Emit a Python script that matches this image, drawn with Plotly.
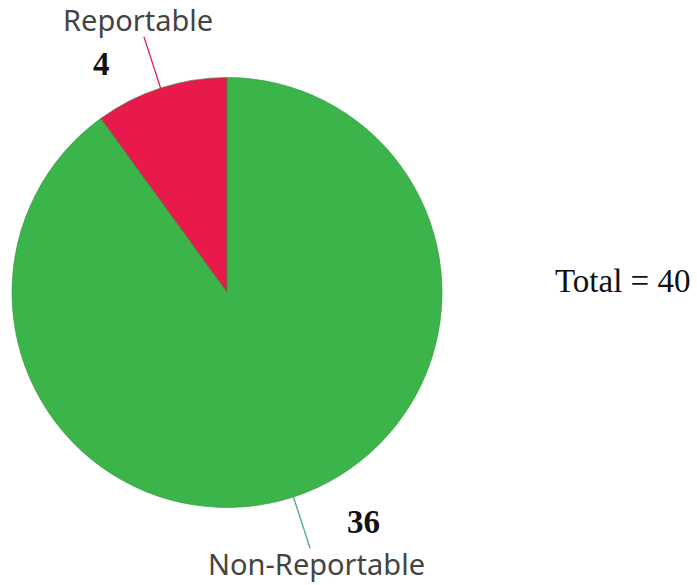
import math
import plotly.graph_objects as go

labels = ["Reportable", "Non-Reportable"]
values = [4, 36]
colors = ["#e8194b", "#3bb54a"]
line_colors = ["#e8194b", "#4aa88a"]
total_text = "Total = 40"

W, H = 697, 585
cx, cy, R = 227, 292.5, 215  # pixel geometry of the pie

total = sum(values)
fig = go.Figure(go.Pie(
    labels=labels, values=values, sort=False, direction="counterclockwise",
    rotation=-360 * values[0] / total,
    marker=dict(colors=colors, line=dict(color="#2f8f3a", width=0.6)),
    textinfo="none", hoverinfo="label+value", showlegend=False,
    domain=dict(x=[(cx - R) / W, (cx + R) / W], y=[(H - cy - R) / H, (H - cy + R) / H]),
))

def px(x, y):
    return x / W, 1 - y / H

cum = 0
label_pos = [(-6, -17), (6, 15)]
value_offsets = [(-42, 27), (53, -26)]
for i, (lab, v) in enumerate(zip(labels, values)):
    mid = (cum + v / 2) / total * 2 * math.pi  # counterclockwise from top
    cum += v
    sx, sy = -math.sin(mid), -math.cos(mid)
    x0, y0 = cx + sx * R, cy + sy * R
    x1, y1 = cx + sx * (R + 54), cy + sy * (R + 54)
    a0, b0 = px(x0, y0)
    a1, b1 = px(x1, y1)
    fig.add_shape(type="line", xref="paper", yref="paper", x0=a0, y0=b0, x1=a1, y1=b1,
                  line=dict(color=line_colors[i], width=1.3))
    lx, ly = px(x1 + label_pos[i][0], y1 + label_pos[i][1])
    fig.add_annotation(text=lab, x=lx, y=ly, xref="paper", yref="paper", showarrow=False,
                       xanchor="center", yanchor="middle",
                       font=dict(family="Noto Sans", size=29, color="#444444"))
    vx, vy = px(x1 + value_offsets[i][0], y1 + value_offsets[i][1])
    fig.add_annotation(text="<b>%d</b>" % v, x=vx, y=vy, xref="paper", yref="paper",
                       showarrow=False, xanchor="center", yanchor="middle",
                       font=dict(family="Liberation Serif", size=33, color="#111111"))

tx, ty = px(622, 281)
fig.add_annotation(text=total_text, x=tx, y=ty, xref="paper", yref="paper",
                   showarrow=False, xanchor="center", yanchor="middle",
                   font=dict(family="Liberation Serif", size=33, color="#111111"))

fig.update_layout(width=W, height=H, margin=dict(l=0, r=0, t=0, b=0),
                  paper_bgcolor="white", plot_bgcolor="white")
fig.write_html("out.html")
